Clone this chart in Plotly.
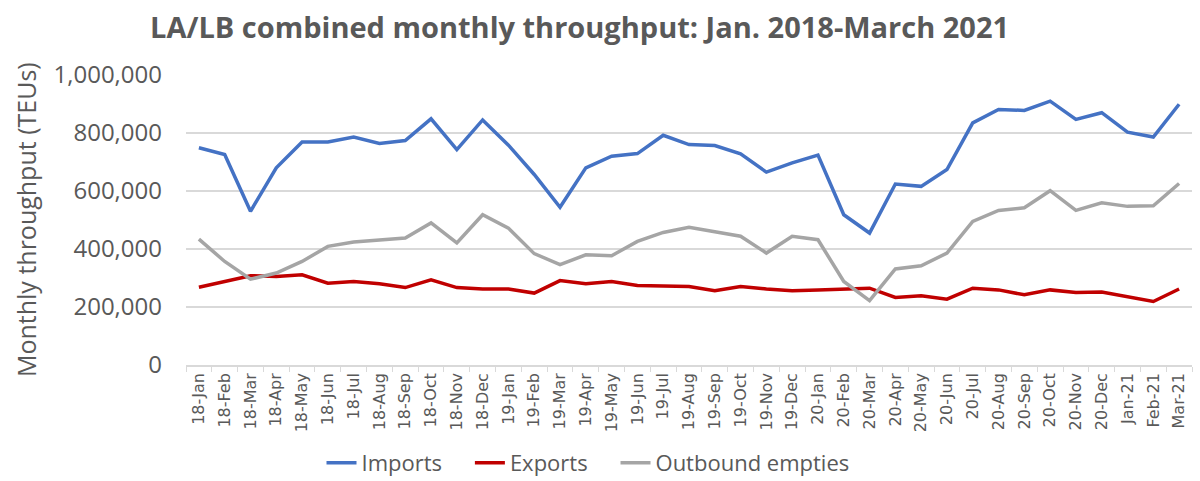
import plotly.graph_objects as go

# LA/LB combined monthly throughput, TEUs
months = [
    "18-Jan", "18-Feb", "18-Mar", "18-Apr", "18-May", "18-Jun", "18-Jul", "18-Aug",
    "18-Sep", "18-Oct", "18-Nov", "18-Dec", "19-Jan", "19-Feb", "19-Mar", "19-Apr",
    "19-May", "19-Jun", "19-Jul", "19-Aug", "19-Sep", "19-Oct", "19-Nov", "19-Dec",
    "20-Jan", "20-Feb", "20-Mar", "20-Apr", "20-May", "20-Jun", "20-Jul", "20-Aug",
    "20-Sep", "20-Oct", "20-Nov", "20-Dec", "Jan-21", "Feb-21", "Mar-21",
]

imports = [
    749000, 726000, 530000, 680000, 769000, 769000, 786000, 764000, 774000, 849000,
    743000, 845000, 758000, 657000, 544000, 680000, 720000, 729000, 792000, 760000,
    757000, 728000, 665000, 697000, 724000, 518000, 455000, 624000, 616000, 674000,
    835000, 881000, 878000, 910000, 847000, 870000, 803000, 786000, 899000,
]

exports = [
    268000, 288000, 308000, 305000, 311000, 282000, 288000, 280000, 267000, 294000,
    267000, 262000, 262000, 248000, 291000, 280000, 288000, 274000, 274000, 271000,
    256000, 271000, 262000, 256000, 259000, 262000, 265000, 233000, 239000, 227000,
    265000, 259000, 242000, 259000, 250000, 252000, 236000, 219000, 262000,
]

outbound_empties = [
    434000, 357000, 296000, 317000, 357000, 409000, 424000, 432000, 438000, 490000,
    421000, 518000, 472000, 384000, 346000, 380000, 377000, 426000, 457000, 475000,
    461000, 444000, 386000, 444000, 432000, 288000, 222000, 331000, 342000, 386000,
    495000, 533000, 542000, 601000, 533000, 559000, 547000, 549000, 626000,
]

y_ticks = [0, 200000, 400000, 600000, 800000, 1000000]

font_family = "Open Sans, Noto Sans, sans-serif"
text_grey = "#595959"
grid_grey = "#d9d9d9"
gap = "&nbsp;" * 4  # extra room between legend entries

fig = go.Figure()

fig.add_trace(go.Scatter(x=months, y=imports, mode="lines", name="Imports" + gap,
                         line=dict(color="#4472C4", width=3.5)))
fig.add_trace(go.Scatter(x=months, y=exports, mode="lines", name="Exports" + gap,
                         line=dict(color="#C00000", width=3.5)))
fig.add_trace(go.Scatter(x=months, y=outbound_empties, mode="lines", name="Outbound empties",
                         line=dict(color="#A5A5A5", width=3.5)))

fig.update_layout(
    width=1200,
    height=481,
    paper_bgcolor="white",
    plot_bgcolor="white",
    margin=dict(l=186, r=8, t=75, b=116, autoexpand=False),
    font=dict(family=font_family, color=text_grey),
    title=dict(
        text="<b>LA/LB combined monthly throughput: Jan. 2018-March 2021</b>",
        x=0.483, xanchor="center",
        yref="container", y=1 - 28 / 481, yanchor="middle",
        font=dict(size=29, color=text_grey),
    ),
    showlegend=True,
    legend=dict(
        orientation="h", xref="container", x=0.49, xanchor="center",
        y=-(463 - 365) / 290, yanchor="middle",
        font=dict(size=22, color=text_grey),
        itemwidth=30,
    ),
)

# y-axis title as a rotated annotation left of the tick labels
fig.add_annotation(
    text="Monthly throughput (TEUs)",
    xref="paper", yref="paper", x=-0.159, y=0.5,
    xanchor="center", yanchor="middle", textangle=-90,
    showarrow=False, font=dict(size=25, color=text_grey),
)

fig.update_xaxes(
    type="category",
    range=[-0.5, len(months) - 0.5],
    tickangle=-90,
    tickfont=dict(family="DejaVu Sans, sans-serif", size=16, color=text_grey),
    showgrid=False,
    showline=True, linecolor=grid_grey, linewidth=1.5,
    ticks="outside", ticklen=5, tickcolor=grid_grey,
    tickson="boundaries",
)

fig.update_yaxes(
    range=[0, 1000000],
    tickvals=y_ticks,
    tickformat=",",
    tickfont=dict(size=24, color=text_grey),
    ticklabelstandoff=23,
    showgrid=True, gridcolor=grid_grey, gridwidth=1.5,
    zeroline=False,
)

# drop the default page margin so the figure sits at the window's corner
fig.write_html("out.html", config={"displayModeBar": False},
               post_script="document.body.style.margin = '0';")
